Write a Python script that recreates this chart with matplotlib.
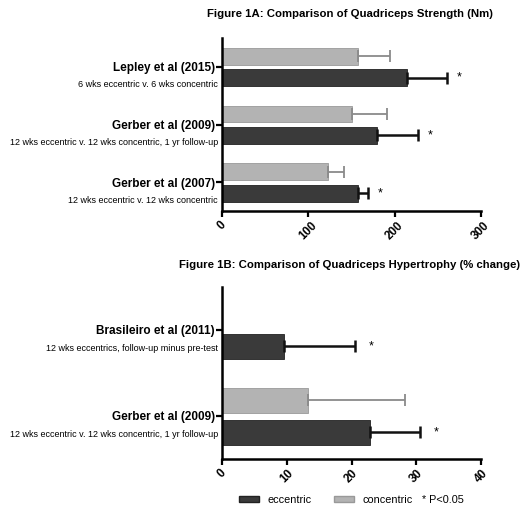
import matplotlib
matplotlib.use('Agg')
import matplotlib.pyplot as plt
from matplotlib.patches import Patch

plt.rcParams['font.family'] = ['Liberation Sans', 'DejaVu Sans']

# Figure 1A: quadriceps strength (Nm)
studies_a = ['Lepley et al (2015)', 'Gerber et al (2009)', 'Gerber et al (2007)']
notes_a = ['6 wks eccentric v. 6 wks concentric',
           '12 wks eccentric v. 12 wks concentric, 1 yr follow-up',
           '12 wks eccentric v. 12 wks concentric']
ecc_a = [214, 180, 158]
ecc_err_a = [47, 47, 11]
conc_a = [158, 151, 123]
conc_err_a = [37, 40, 18]

# Figure 1B: quadriceps hypertrophy (% change)
studies_b = ['Brasileiro et al (2011)', 'Gerber et al (2009)']
notes_b = ['12 wks eccentrics, follow-up minus pre-test',
           '12 wks eccentric v. 12 wks concentric, 1 yr follow-up']
ecc_b = [9.6, 22.9]
ecc_err_b = [11.0, 7.7]
conc_b = [None, 13.3]
conc_err_b = [None, 15.0]

ECC = '#3a3a3a'
CONC = '#b3b3b3'


def panel(ax, studies, notes, ecc, ecc_err, conc, conc_err, xmax, step, star_gap, h):
    n = len(studies)
    ys = list(range(n - 1, -1, -1))
    for y, e, ee, c, ce in zip(ys, ecc, ecc_err, conc, conc_err):
        ax.barh(y - 0.19, e, height=h, color=ECC, edgecolor='#222222', linewidth=0.6)
        ax.errorbar(e, y - 0.19, xerr=[[0], [ee]], fmt='none', ecolor='#111111',
                    elinewidth=1.8, capsize=4, capthick=1.8)
        ax.text(e + ee + star_gap, y - 0.19, '*', ha='center', va='center', fontsize=9)
        if c is not None:
            ax.barh(y + 0.18, c, height=h, color=CONC, edgecolor='#999999', linewidth=0.6)
            ax.errorbar(c, y + 0.18, xerr=[[0], [ce]], fmt='none', ecolor='#8a8a8a',
                        elinewidth=1.3, capsize=4, capthick=1.3)
    ax.set_xlim(0, xmax)
    ax.set_ylim(-0.5, n - 0.5)
    ax.set_xticks(range(0, xmax + 1, step))
    ax.set_xticklabels([str(v) for v in range(0, xmax + 1, step)], rotation=45,
                       fontweight='bold', fontsize=8.5)
    ax.set_yticks(ys)
    ax.set_yticklabels(studies, fontweight='bold', fontsize=8.5)
    for y, note in zip(ys, notes):
        ax.annotate(note, xy=(0, y), xycoords=('axes fraction', 'data'),
                    xytext=(-3, -13), textcoords='offset points',
                    ha='right', va='center', fontsize=6.5)
    for s in ['top', 'right']:
        ax.spines[s].set_visible(False)
    for s in ['left', 'bottom']:
        ax.spines[s].set_linewidth(1.8)
    ax.tick_params(axis='both', width=1.6, length=4, pad=1)
    ax.tick_params(axis='x', pad=2)


fig = plt.figure(figsize=(5.24, 5.08), dpi=100)

ax1 = fig.add_axes([0.4237, 0.5846, 0.4943, 0.3406])
panel(ax1, studies_a, notes_a, ecc_a, ecc_err_a, conc_a, conc_err_a, 300, 100, 14, 0.29)
fig.text(0.668, 0.972, 'Figure 1A: Comparison of Quadriceps Strength (Nm)',
         ha='center', va='center', fontweight='bold', fontsize=8.2)

ax2 = fig.add_axes([0.4237, 0.0965, 0.4943, 0.3386])
panel(ax2, studies_b, notes_b, ecc_b, ecc_err_b, conc_b, conc_err_b, 40, 10, 2.4, 0.285)
fig.text(0.668, 0.478, 'Figure 1B: Comparison of Quadriceps Hypertrophy (% change)',
         ha='center', va='center', fontweight='bold', fontsize=8.2)

handles = [Patch(facecolor=ECC, edgecolor='#222222', label='eccentric'),
           Patch(facecolor=CONC, edgecolor='#999999', label='concentric')]
fig.legend(handles=handles, loc='center', bbox_to_anchor=(0.622, 0.016), ncol=2,
           frameon=False, fontsize=7.8, handlelength=1.9, handleheight=0.6,
           columnspacing=2.0, handletextpad=0.8)
fig.text(0.806, 0.016, '* P<0.05', ha='left', va='center', fontsize=7.8)

fig.savefig('out.png', dpi=100)
